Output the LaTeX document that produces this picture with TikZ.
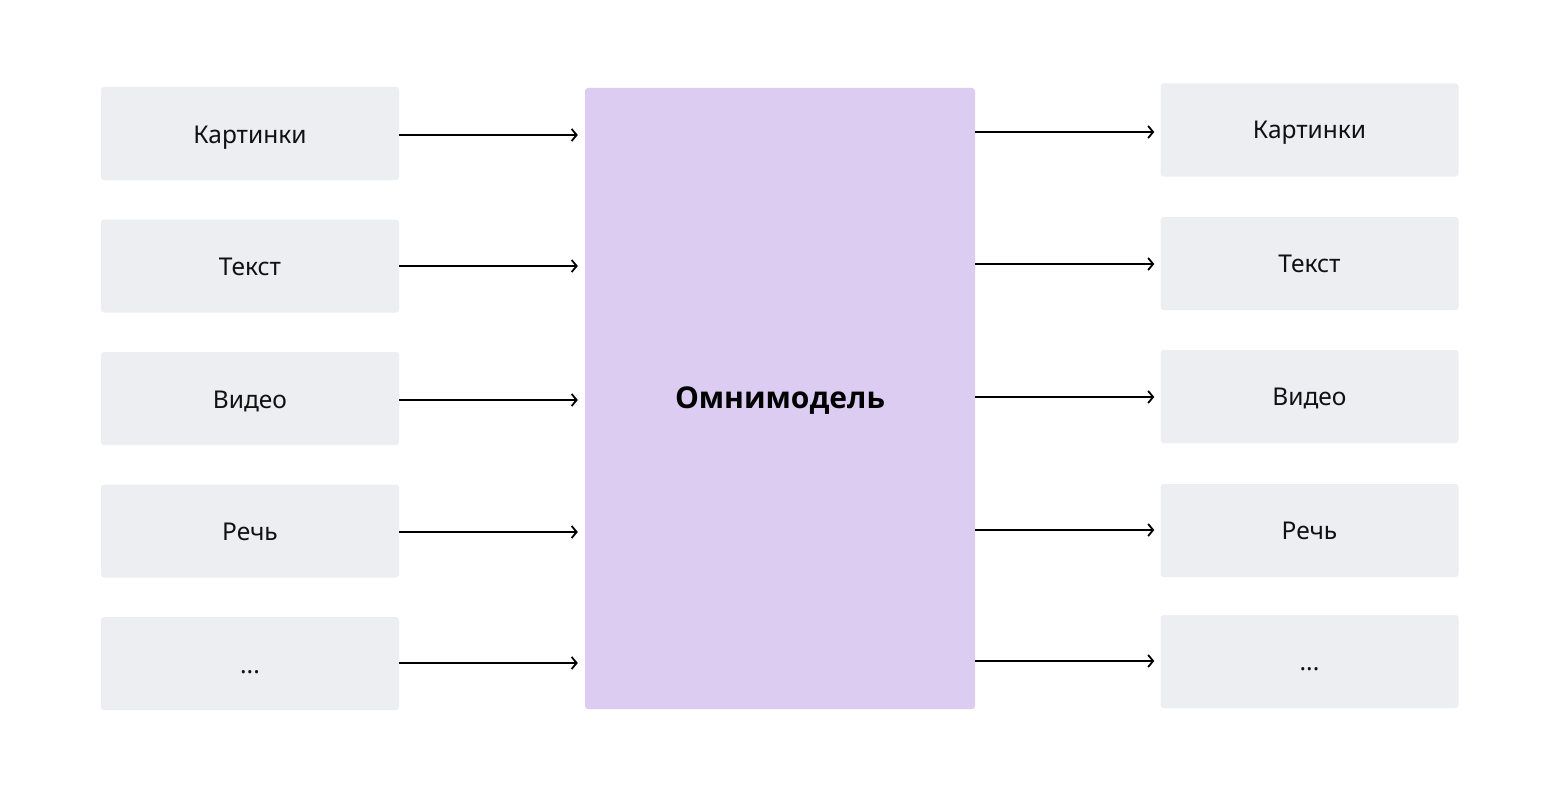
\documentclass[tikz,border=0pt]{standalone}
\usepackage{fontspec}
\setmainfont{Noto Sans}
\newfontfamily\corefont{Open Sans}
\usetikzlibrary{arrows.meta}
\definecolor{boxgray}{HTML}{EDEEF2}
\definecolor{lilac}{HTML}{DCCCF2}
\definecolor{ink}{HTML}{111111}
\tikzset{
  modbox/.style={fill=boxgray, rounded corners=3pt, minimum width=298pt, minimum height=93pt, inner sep=0pt, font=\fontsize{24.5}{30}\selectfont, text=ink, text height=21pt, text depth=2pt},
  rbox/.style={modbox, text height=19pt, text depth=2pt},
  corebox/.style={fill=lilac, rounded corners=3pt, minimum width=390pt, minimum height=621pt, inner sep=0pt, font=\corefont\bfseries\fontsize{30}{36}\selectfont, text=black, text height=21pt, text depth=2pt},
  flow/.style={draw=black, line width=1.8pt, -{Straight Barb[length=5pt,width=12pt,line width=1.8pt]}},
}
\begin{document}
\begin{tikzpicture}[x=1pt,y=-1pt]
\useasboundingbox (0,0) rectangle (1560,797);
\fill[white] (0,0) rectangle (1560,797);
\node[corebox] (c) at (780,398.5) {Омнимодель};
% left boxes
\node[modbox] (l1) at (250,133.5) {Картинки};
\node[modbox] (l2) at (250,266) {Текст};
\node[modbox] (l3) at (250,398.5) {Видео};
\node[modbox] (l4) at (250,531) {Речь};
\node[modbox] (l5) at (250,663.5) {...};
% right boxes
\node[rbox] (r1) at (1309.5,130) {Картинки};
\node[rbox] (r2) at (1309.5,263.5) {Текст};
\node[rbox] (r3) at (1309.5,396.5) {Видео};
\node[rbox] (r4) at (1309.5,530.5) {Речь};
\node[rbox] (r5) at (1309.5,661.5) {...};
\foreach \i/\ls/\rs in {1/-1.5/-2, 2/0/-0.5, 3/-1.5/-0.5, 4/-1/0.5, 5/0.5/0.5}{
  \draw[flow, shorten >=7pt] ([yshift=\ls pt]l\i.east) -- ([yshift=\ls pt]l\i.east -| c.west);
  \draw[flow, shorten >=6pt] ([yshift=\rs pt]r\i.west -| c.east) -- ([yshift=\rs pt]r\i.west);
}
\end{tikzpicture}
\end{document}
